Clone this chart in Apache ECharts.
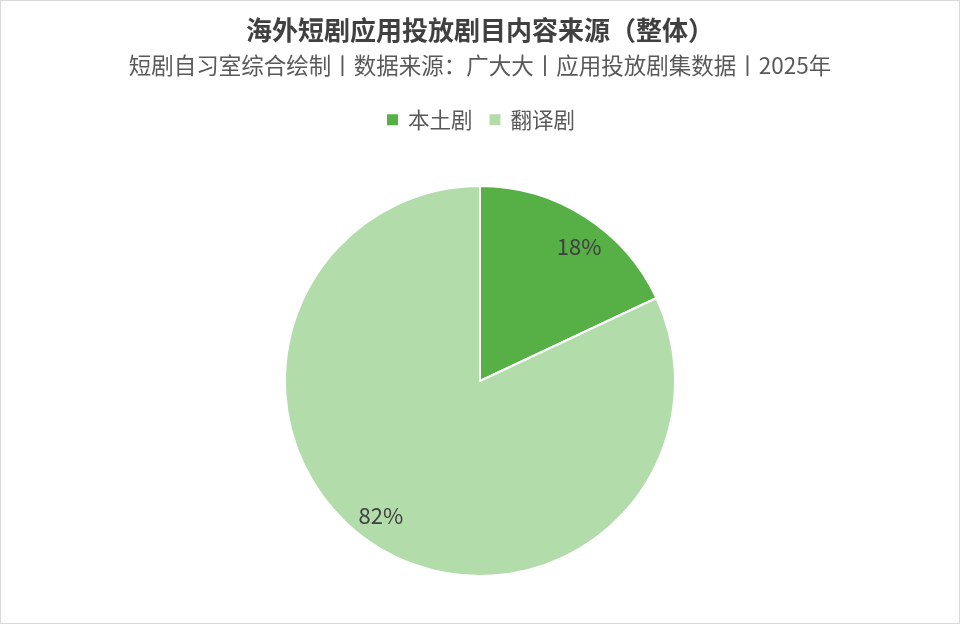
<!DOCTYPE html>
<html>
<head>
<meta charset="utf-8">
<script src="https://cdn.jsdelivr.net/npm/echarts@6/dist/echarts.min.js"></script>
<style>
    html, body { margin: 0; padding: 0; background: #fff; }
    #chart { width: 958px; height: 622px; border: 1px solid #d9d9d9; }
</style>
</head>
<body>
<div id="chart"></div>
<script>
const titleText = '海外短剧应用投放剧目内容来源（整体）';
const subtitleText = '短剧自习室综合绘制丨数据来源：广大大丨应用投放剧集数据丨2025年';
const categories = ['本土剧', '翻译剧'];
const shares = [18, 82];
const colors = ['#56b045', '#b3dcab'];

const font = '"Noto Sans CJK SC", "Noto Sans", sans-serif';
const pieData = categories.map((name, i) => ({ name: name, value: shares[i] }));

const myChart = echarts.init(document.getElementById('chart'));
const option = {
    color: colors,
    title: {
        text: titleText,
        subtext: subtitleText,
        left: 'center',
        top: 11,
        itemGap: 11,
        textStyle: { fontFamily: font, fontSize: 26, fontWeight: 'bold', color: '#404040' },
        subtextStyle: { fontFamily: font, fontSize: 22.5, color: '#595959' }
    },
    legend: {
        top: 103,
        left: 'center',
        icon: 'rect',
        itemWidth: 13,
        itemHeight: 13,
        itemGap: 15,
        textStyle: { fontFamily: font, fontSize: 21.5, color: '#595959', padding: [0, 0, 0, 4] },
        data: categories
    },
    series: [
        {
            type: 'pie',
            center: [479, 380],
            radius: 195,
            startAngle: 90,
            clockwise: true,
            silent: true,
            itemStyle: { borderColor: '#fff', borderWidth: 2 },
            label: { show: false },
            labelLine: { show: false },
            data: pieData
        },
        {
            // transparent ring only used to place the labels near the rim
            // (slightly rotated, like the label placement in the original)
            type: 'pie',
            center: [479, 380],
            radius: [130, 198],
            startAngle: 86,
            clockwise: true,
            silent: true,
            itemStyle: { color: 'transparent', borderWidth: 0 },
            label: {
                show: true,
                position: 'inside',
                formatter: '{c}%',
                fontFamily: font,
                fontSize: 22,
                color: '#404040'
            },
            labelLine: { show: false },
            data: pieData
        }
    ]
};
myChart.setOption(option);
</script>
</body>
</html>
